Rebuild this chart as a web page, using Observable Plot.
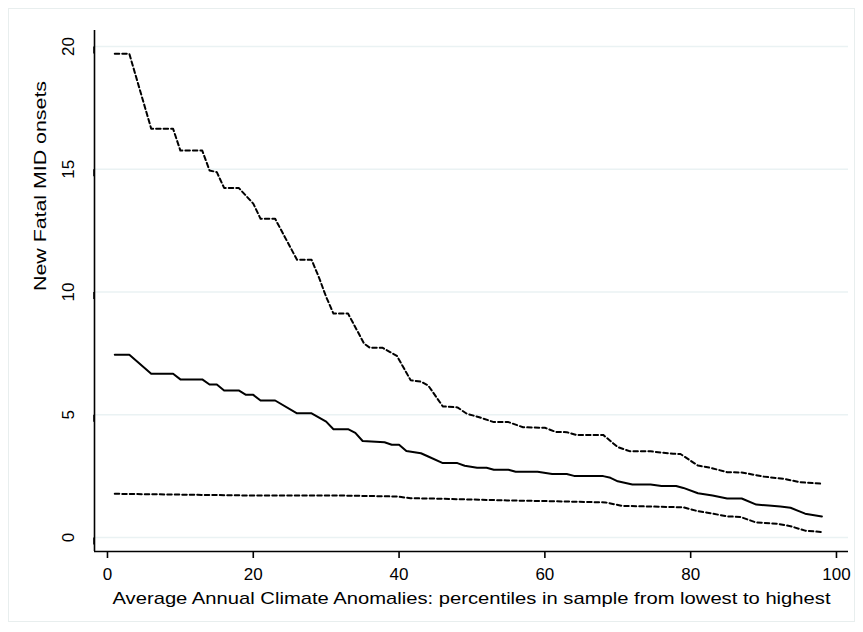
<!DOCTYPE html>
<html>
<head>
<meta charset="utf-8">
<script src="https://cdn.jsdelivr.net/npm/d3@7"></script>
<script src="https://cdn.jsdelivr.net/npm/@observablehq/plot@0.6"></script>
<style>
  html, body { margin: 0; padding: 0; background: #fff; }
  #chart svg { display: block; }
</style>
</head>
<body>
<div id="chart"></div>
<script>
// Upper bound (dashed)
const upperX = [1,3,6,9,10,13,14,15,16,18,20,21,23,26,28,29,30,31,33,35.2,36,37.7,39.7,41.6,43,44,46,48,49.3,51,53,55,57,60,61.5,63,64.3,68,70,71.7,74.5,77.6,78.6,81,82.7,85,87,90,92.8,95,98];
const upperY = [19.7,19.7,16.65,16.65,15.76,15.76,14.95,14.88,14.24,14.24,13.6,12.98,12.98,11.31,11.31,10.6,9.8,9.12,9.12,7.9,7.73,7.73,7.4,6.4,6.35,6.19,5.34,5.3,5.04,4.9,4.7,4.7,4.49,4.47,4.3,4.29,4.18,4.18,3.68,3.51,3.51,3.41,3.4,2.93,2.84,2.66,2.65,2.48,2.39,2.25,2.19];
// Point estimate (solid)
const estX = [1,3,6,9,10,13,14,15,16,18,19,20,21,23,26,28,30,31,33,34,35,38,39,40,41,43,44,46,48,49,50.7,52,53,55,56,59,61,63,64,68,69,70,72,74.5,76,78,79,81,83,85,87,89,90.7,92.3,93.7,95.7,98];
const estY = [7.44,7.44,6.67,6.67,6.44,6.44,6.23,6.23,5.99,5.99,5.81,5.81,5.58,5.58,5.06,5.06,4.72,4.41,4.41,4.26,3.93,3.88,3.78,3.78,3.52,3.43,3.3,3.03,3.03,2.92,2.84,2.84,2.76,2.76,2.68,2.68,2.59,2.59,2.51,2.5,2.43,2.29,2.16,2.16,2.1,2.1,2.02,1.8,1.71,1.59,1.59,1.34,1.3,1.26,1.21,0.97,0.86];
// Lower bound (dashed)
const lowerX = [1,20,32,39.7,41.6,45.7,54.8,61,68.3,70.6,79,81,82.7,85,86.8,88.9,91.9,93.7,95.7,98];
const lowerY = [1.78,1.71,1.71,1.67,1.6,1.58,1.51,1.48,1.43,1.29,1.23,1.07,0.99,0.86,0.84,0.62,0.56,0.46,0.28,0.22];

const xTicks = [0,20,40,60,80,100];
const yTicks = [0,5,10,15,20];
const xLabel = "Average Annual Climate Anomalies: percentiles in sample from lowest to highest";
const yLabel = "New Fatal MID onsets";

const toRows = (xs, ys) => xs.map((x, i) => ({x, y: ys[i]}));
const upper = toRows(upperX, upperY);
const est = toRows(estX, estY);
const lower = toRows(lowerX, lowerY);

const xDom = [-1.78, 101.65];
const yDom = [-0.57, 20.65];

const plot = Plot.plot({
  width: 863,
  height: 632,
  marginLeft: 94,
  marginRight: 15,
  marginTop: 30,
  marginBottom: 81,
  style: {fontFamily: "Liberation Sans, Arial, sans-serif", fontSize: "17px", background: "#fff", color: "#000"},
  x: {domain: xDom},
  y: {domain: yDom},
  marks: [
    Plot.gridY(yTicks, {stroke: "#eaf2f3", strokeOpacity: 1, strokeWidth: 1.5}),
    Plot.ruleX([xDom[0]], {y1: yDom[0], y2: yDom[1], stroke: "#000", strokeWidth: 1.6}),
    Plot.ruleY([yDom[0]], {x1: xDom[0], x2: xDom[1], stroke: "#000", strokeWidth: 1.6}),
    Plot.axisX({ticks: xTicks, tickSize: 7, tickPadding: 9, label: null, fontSize: 17, stroke: "#000", strokeWidth: 1.6}),
    Plot.axisY({ticks: yTicks, tickSize: 7, tickPadding: 19, label: null, fontSize: 17, stroke: "#000", strokeWidth: 1.6, rotate: -90, textAnchor: "middle"}),
    Plot.line(upper, {x: "x", y: "y", stroke: "#000", strokeWidth: 2, strokeDasharray: "4.5,3", strokeLinejoin: "round"}),
    Plot.line(est, {x: "x", y: "y", stroke: "#000", strokeWidth: 2, strokeLinejoin: "round"}),
    Plot.line(lower, {x: "x", y: "y", stroke: "#000", strokeWidth: 2, strokeDasharray: "4.5,3", strokeLinejoin: "round"}),
    Plot.text([xLabel], {frameAnchor: "bottom", dy: 52, fontSize: 17, fill: "#000", className: "xlab"}),
    Plot.text([yLabel], {frameAnchor: "left", dx: -54, rotate: -90, fontSize: 17, fill: "#000", className: "ylab"})
  ]
});

const svg = d3.select(plot);
svg.insert("rect", ":first-child")
  .attr("x", 8.5).attr("y", 8.5).attr("width", 846).attr("height", 613)
  .attr("fill", "none").attr("stroke", "#e8eeee").attr("stroke-width", 1);
svg.selectAll(".xlab text").attr("textLength", 718).attr("lengthAdjust", "spacingAndGlyphs");
svg.selectAll(".ylab text").attr("textLength", 210).attr("lengthAdjust", "spacingAndGlyphs");

document.getElementById("chart").appendChild(plot);
</script>
</body>
</html>
